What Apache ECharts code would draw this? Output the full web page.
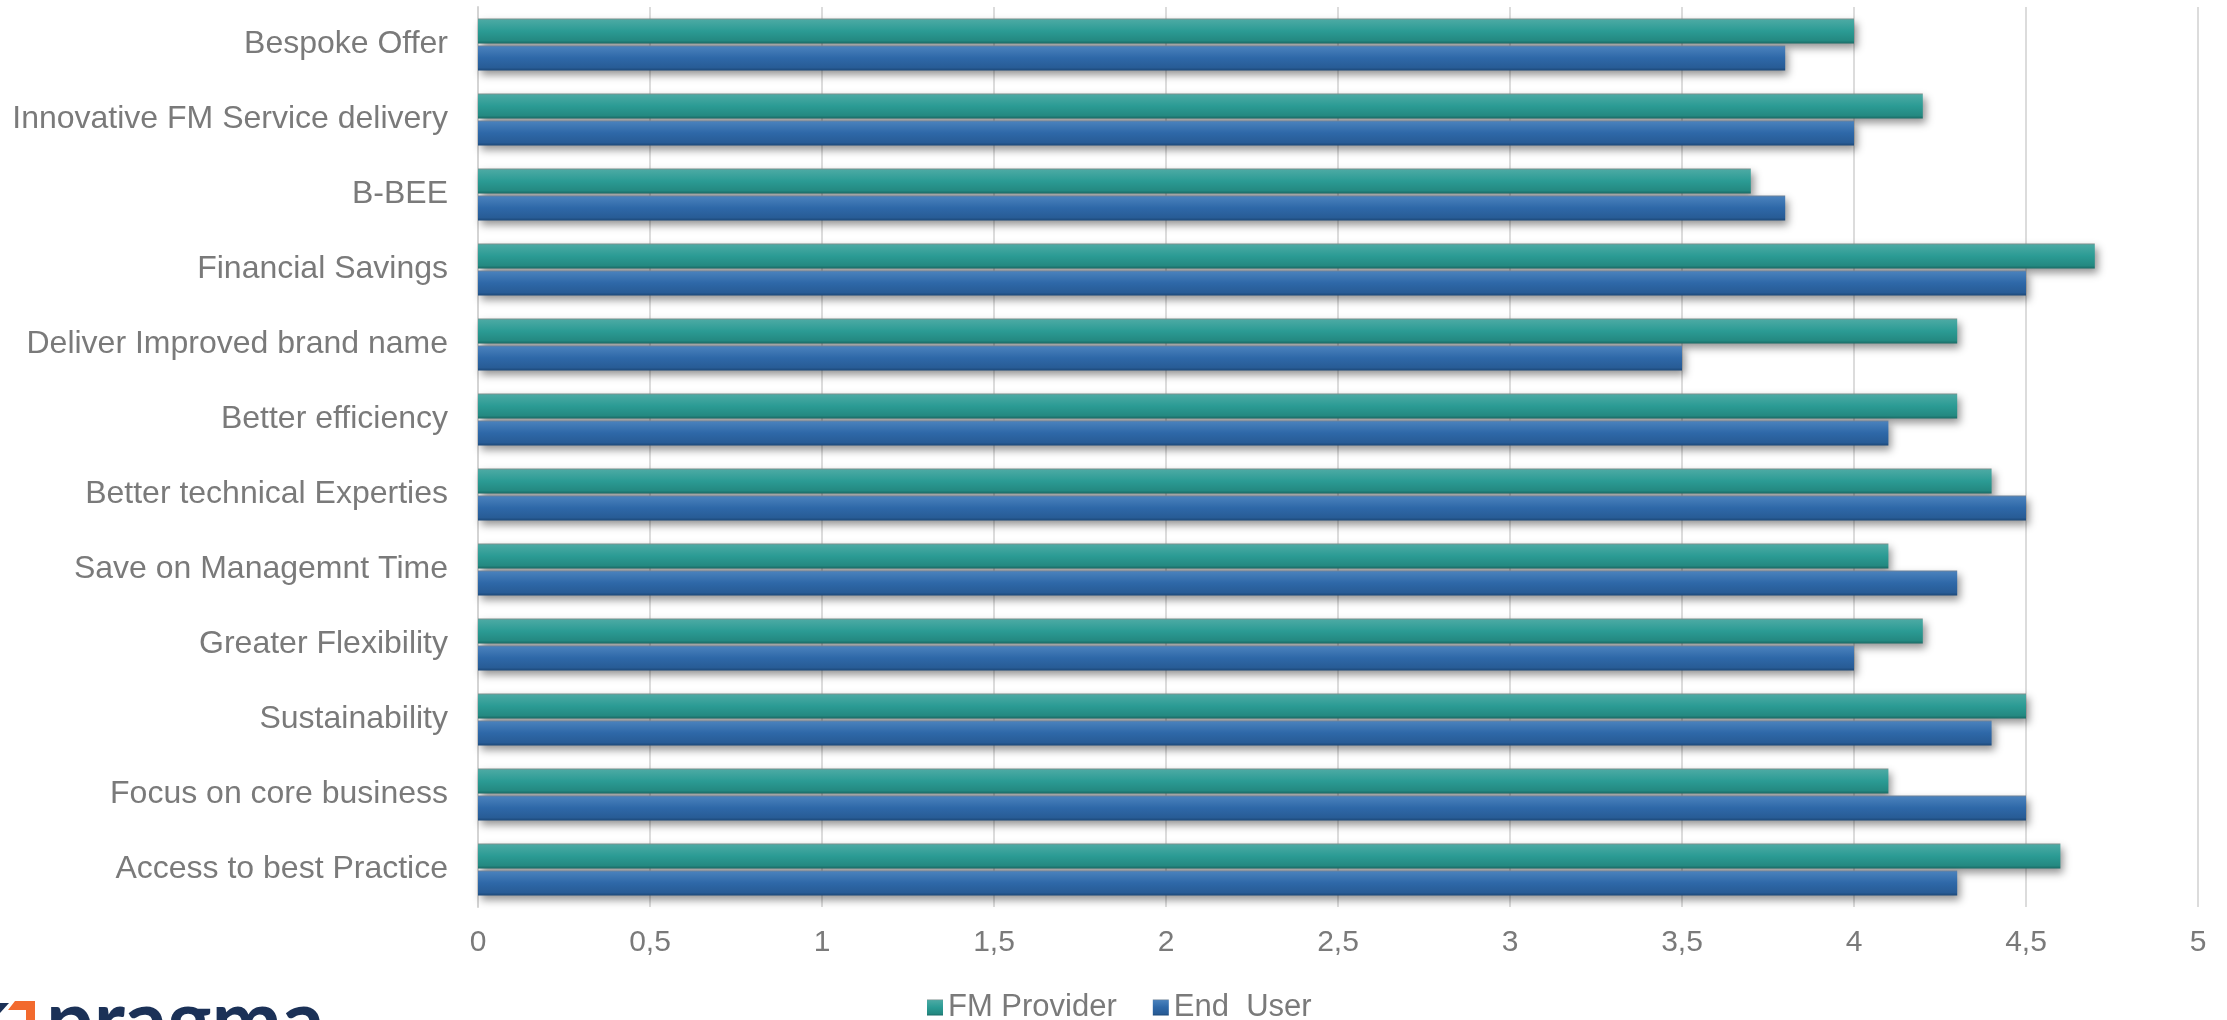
<!DOCTYPE html>
<html>
<head>
<meta charset="utf-8">
<title>FM outsourcing drivers</title>
<script src="https://cdn.jsdelivr.net/npm/echarts@6/dist/echarts.min.js"></script>
<style>
  html, body { margin: 0; padding: 0; background: #ffffff; }
  #chart { width: 2227px; height: 1020px; }
</style>
</head>
<body>
<div id="chart"></div>
<script>
// Drivers rated by both respondent groups (top to bottom)
const categories = [
  'Bespoke Offer',
  'Innovative FM Service delivery',
  'B-BEE',
  'Financial Savings',
  'Deliver Improved brand name',
  'Better efficiency',
  'Better technical Experties',
  'Save on Managemnt Time',
  'Greater Flexibility',
  'Sustainability',
  'Focus on core business',
  'Access to best Practice'
];

const fmProvider = [4.0, 4.2, 3.7, 4.7, 4.3, 4.3, 4.4, 4.1, 4.2, 4.5, 4.1, 4.6];
const endUser    = [3.8, 4.0, 3.8, 4.5, 3.5, 4.1, 4.5, 4.3, 4.0, 4.4, 4.5, 4.3];

const seriesNames = ['FM Provider', 'End  User'];

// Axis scale 0..5 in steps of 0.5, decimal comma
const axisMin = 0, axisMax = 5, axisStep = 0.5;

const chart = echarts.init(document.getElementById('chart'), null, { renderer: 'canvas' });

const grad = (stops) => new echarts.graphic.LinearGradient(0, 0, 0, 1, stops);

const tealFill = grad([
  { offset: 0,    color: '#7d8f8c' },
  { offset: 0.07, color: '#4aa9a3' },
  { offset: 0.5,  color: '#2b9b94' },
  { offset: 0.88, color: '#248981' },
  { offset: 1,    color: '#1a6b66' }
]);
const blueFill = grad([
  { offset: 0,    color: '#6f8297' },
  { offset: 0.07, color: '#4880bb' },
  { offset: 0.5,  color: '#2e68a8' },
  { offset: 0.88, color: '#285c96' },
  { offset: 1,    color: '#1c4878' }
]);

const barShadow = {
  shadowColor: 'rgba(0,0,0,0.42)',
  shadowBlur: 8,
  shadowOffsetX: 3,
  shadowOffsetY: 4
};

const labelFont = 'Liberation Sans, Arial, sans-serif';
const textGrey = '#7a7a7a';

chart.setOption({
  animation: false,
  backgroundColor: '#ffffff',
  grid: { left: 478, right: 29, top: 7, bottom: 113, containLabel: false },
  legend: {
    left: 922,
    top: 987,
    itemWidth: 16,
    itemHeight: 16,
    itemGap: 36,
    icon: 'rect',
    textStyle: { fontFamily: labelFont, fontSize: 31, color: textGrey },
    data: seriesNames
  },
  xAxis: {
    type: 'value',
    min: axisMin,
    max: axisMax,
    interval: axisStep,
    axisLine: { show: false },
    axisTick: { show: false },
    axisLabel: {
      margin: 21,
      fontFamily: labelFont,
      fontSize: 30,
      color: textGrey,
      formatter: (v) => String(v).replace('.', ',')
    },
    splitLine: { show: true, lineStyle: { color: '#dcdcdc', width: 2 } }
  },
  yAxis: {
    type: 'category',
    inverse: true,
    data: categories,
    axisLine: { show: true, lineStyle: { color: '#d4d4d4', width: 2 } },
    axisTick: { show: false },
    axisLabel: {
      margin: 30,
      fontFamily: labelFont,
      fontSize: 32,
      color: textGrey
    }
  },
  series: [
    {
      name: seriesNames[0],
      type: 'bar',
      data: fmProvider,
      barWidth: 25,
      barGap: '8%',
      itemStyle: Object.assign({ color: tealFill }, barShadow)
    },
    {
      name: seriesNames[1],
      type: 'bar',
      data: endUser,
      barWidth: 25,
      barGap: '8%',
      itemStyle: Object.assign({ color: blueFill }, barShadow)
    }
  ],
  graphic: [
    // company logo, partly running off the bottom edge
    {
      type: 'polygon',
      shape: { points: [[0, 1003], [9, 1003], [0, 1013]] },
      style: { fill: '#1b3157' }
    },
    {
      type: 'polygon',
      shape: { points: [[15, 1001], [35, 1001], [35, 1020], [26, 1020], [26, 1010], [8, 1010]] },
      style: { fill: '#f26a2e' }
    },
    {
      type: 'text',
      x: 46,
      y: 1065,
      style: {
        text: 'pragma',
        font: 'bold 84px Lato, "Open Sans", sans-serif',
        fill: '#1b3157',
        textVerticalAlign: 'bottom'
      }
    }
  ]
});
</script>
</body>
</html>
